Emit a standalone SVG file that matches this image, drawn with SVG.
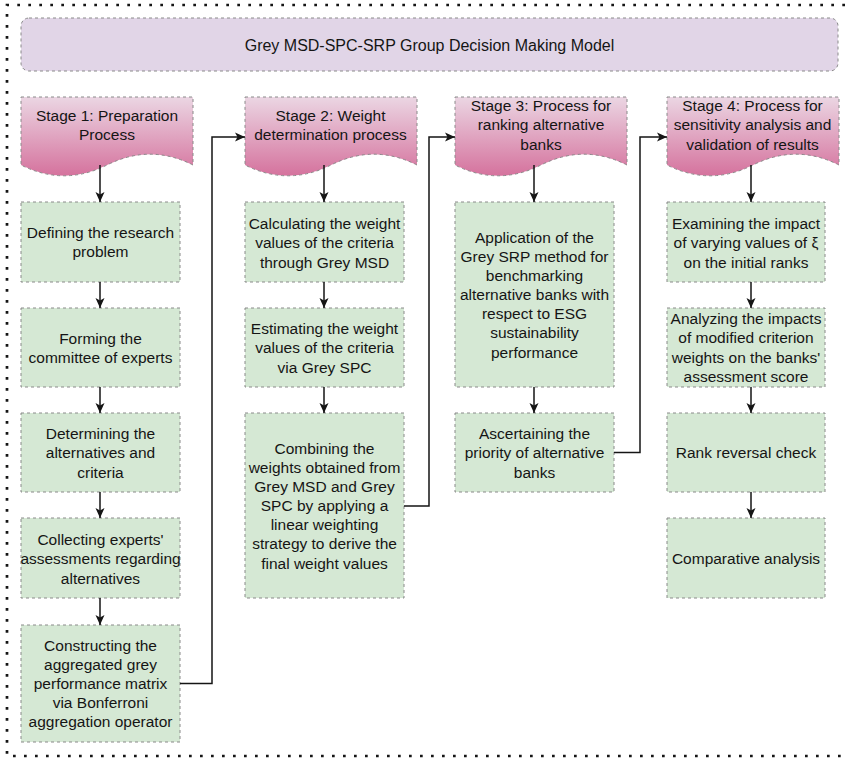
<svg xmlns="http://www.w3.org/2000/svg" width="845" height="758" viewBox="0 0 845 758">
<style>
  text { font-family: "Liberation Sans", Arial, Helvetica, sans-serif; font-size: 15.5px; fill: #151515; text-anchor: middle; }
  .title { font-size: 16px; }
  .box { fill: #d5e8d4; stroke: #8a8a8a; stroke-width: 1; stroke-dasharray: 3 3; }
  .banner { fill: url(#pink); stroke: #8a8a8a; stroke-width: 1; stroke-dasharray: 3 3; }
  .conn { fill: none; stroke: #151515; stroke-width: 1.5; marker-end: url(#arrow); }
</style>
<defs>
  <linearGradient id="pink" x1="0" y1="0" x2="0" y2="1">
    <stop offset="0" stop-color="#ebd6e3"/>
    <stop offset="1" stop-color="#d5729d"/>
  </linearGradient>
  <marker id="arrow" markerUnits="userSpaceOnUse" markerWidth="11" markerHeight="10" refX="10" refY="4.5" orient="auto" overflow="visible">
    <path d="M0,0 L10,4.5 L0,9 L2.5,4.5 Z" fill="#151515"/>
  </marker>
  <path id="doc" d="M0,0 H172 V68 Q129,46.4 86,68 Q43,89.6 0,68 Z"/>
</defs>
<rect x="0" y="0" width="845" height="758" fill="#ffffff"/>
<path d="M900,5 H7 V756 H900" fill="none" stroke="#151515" stroke-width="2.7" stroke-dasharray="2.7 8.3"/>

<g id="title">
  <rect x="21" y="18" width="817" height="53" rx="8" fill="#e1d5e7" stroke="#8a8a8a" stroke-width="1" stroke-dasharray="3 3"/>
  <text class="title" x="429.5" y="50.5">Grey MSD-SPC-SRP Group Decision Making Model</text>
</g>

<g id="stage1">
  <use href="#doc" class="banner" x="21" y="97"/>
  <text x="107" y="120.5">Stage 1: Preparation</text>
  <text x="107" y="139.5">Process</text>
</g>
<g id="stage2">
  <use href="#doc" class="banner" x="245" y="97"/>
  <text x="330.5" y="120.5">Stage 2: Weight</text>
  <text x="330.5" y="139.5">determination process</text>
</g>
<g id="stage3">
  <use href="#doc" class="banner" x="455" y="97"/>
  <text x="541" y="110.5">Stage 3: Process for</text>
  <text x="541" y="130">ranking alternative</text>
  <text x="541" y="149.5">banks</text>
</g>
<g id="stage4">
  <use href="#doc" class="banner" x="667" y="97"/>
  <text x="752.5" y="110.5">Stage 4: Process for</text>
  <text x="752.5" y="130">sensitivity analysis and</text>
  <text x="752.5" y="149.5">validation of results</text>
</g>

<g id="c1b1">
  <rect class="box" x="21" y="202" width="159" height="80"/>
  <text x="100.5" y="237.5">Defining the research</text>
  <text x="100.5" y="257">problem</text>
</g>
<g id="c1b2">
  <rect class="box" x="21" y="308" width="159" height="79"/>
  <text x="100.5" y="343.5">Forming the</text>
  <text x="100.5" y="363">committee of experts</text>
</g>
<g id="c1b3">
  <rect class="box" x="21" y="413" width="159" height="79"/>
  <text x="100.5" y="438.5">Determining the</text>
  <text x="100.5" y="458">alternatives and</text>
  <text x="100.5" y="477.5">criteria</text>
</g>
<g id="c1b4">
  <rect class="box" x="21" y="518" width="159" height="80"/>
  <text x="100.5" y="544.5">Collecting experts'</text>
  <text x="100.5" y="564">assessments regarding</text>
  <text x="100.5" y="583.5">alternatives</text>
</g>
<g id="c1b5">
  <rect class="box" x="21" y="625" width="159" height="117"/>
  <text x="100.5" y="650.6">Constructing the</text>
  <text x="100.5" y="669.8">aggregated grey</text>
  <text x="100.5" y="689">performance matrix</text>
  <text x="100.5" y="708.2">via Bonferroni</text>
  <text x="100.5" y="727.4">aggregation operator</text>
</g>

<g id="c2b1">
  <rect class="box" x="245" y="202" width="159" height="80"/>
  <text x="324.5" y="228.5">Calculating the weight</text>
  <text x="324.5" y="248">values of the criteria</text>
  <text x="324.5" y="267.5">through Grey MSD</text>
</g>
<g id="c2b2">
  <rect class="box" x="245" y="308" width="159" height="79"/>
  <text x="324.5" y="333.5">Estimating the weight</text>
  <text x="324.5" y="353">values of the criteria</text>
  <text x="324.5" y="372.5">via Grey SPC</text>
</g>
<g id="c2b3">
  <rect class="box" x="245" y="413" width="159" height="185"/>
  <text x="324.5" y="453.5">Combining the</text>
  <text x="324.5" y="472.7">weights obtained from</text>
  <text x="324.5" y="491.8">Grey MSD and Grey</text>
  <text x="324.5" y="511">SPC by applying a</text>
  <text x="324.5" y="530.2">linear weighting</text>
  <text x="324.5" y="549.3">strategy to derive the</text>
  <text x="324.5" y="568.5">final weight values</text>
</g>

<g id="c3b1">
  <rect class="box" x="455" y="202" width="159" height="185"/>
  <text x="534.5" y="242.5">Application of the</text>
  <text x="534.5" y="261.7">Grey SRP method for</text>
  <text x="534.5" y="280.8">benchmarking</text>
  <text x="534.5" y="300">alternative banks with</text>
  <text x="534.5" y="319.2">respect to ESG</text>
  <text x="534.5" y="338.3">sustainability</text>
  <text x="534.5" y="357.5">performance</text>
</g>
<g id="c3b2">
  <rect class="box" x="455" y="413" width="159" height="79"/>
  <text x="534.5" y="438.5">Ascertaining the</text>
  <text x="534.5" y="458">priority of alternative</text>
  <text x="534.5" y="477.5">banks</text>
</g>

<g id="c4b1">
  <rect class="box" x="667" y="202" width="158" height="80"/>
  <text x="746" y="228.5">Examining the impact</text>
  <text x="746" y="248">of varying values of ξ</text>
  <text x="746" y="267.5">on the initial ranks</text>
</g>
<g id="c4b2">
  <rect class="box" x="667" y="308" width="158" height="79"/>
  <text x="746" y="324.2">Analyzing the impacts</text>
  <text x="746" y="343.4">of modified criterion</text>
  <text x="746" y="362.6">weights on the banks'</text>
  <text x="746" y="381.8">assessment score</text>
</g>
<g id="c4b3">
  <rect class="box" x="667" y="413" width="158" height="79"/>
  <text x="746" y="458">Rank reversal check</text>
</g>
<g id="c4b4">
  <rect class="box" x="667" y="518" width="158" height="80"/>
  <text x="746" y="563.5">Comparative analysis</text>
</g>

<g id="connectors">
  <path class="conn" d="M100,165 V202"/>
  <path class="conn" d="M100,282 V308"/>
  <path class="conn" d="M100,387 V413"/>
  <path class="conn" d="M100,492 V518"/>
  <path class="conn" d="M100,598 V625"/>
  <path class="conn" d="M324,165 V202"/>
  <path class="conn" d="M324,282 V308"/>
  <path class="conn" d="M324,387 V413"/>
  <path class="conn" d="M534,165 V202"/>
  <path class="conn" d="M534,387 V413"/>
  <path class="conn" d="M751,165 V202"/>
  <path class="conn" d="M751,282 V308"/>
  <path class="conn" d="M751,387 V413"/>
  <path class="conn" d="M751,492 V518"/>
  <path class="conn" d="M180,683.5 H212 V137 H245"/>
  <path class="conn" d="M404,506 H429 V137 H455"/>
  <path class="conn" d="M614,452.5 H640 V137 H667"/>
</g>
</svg>
